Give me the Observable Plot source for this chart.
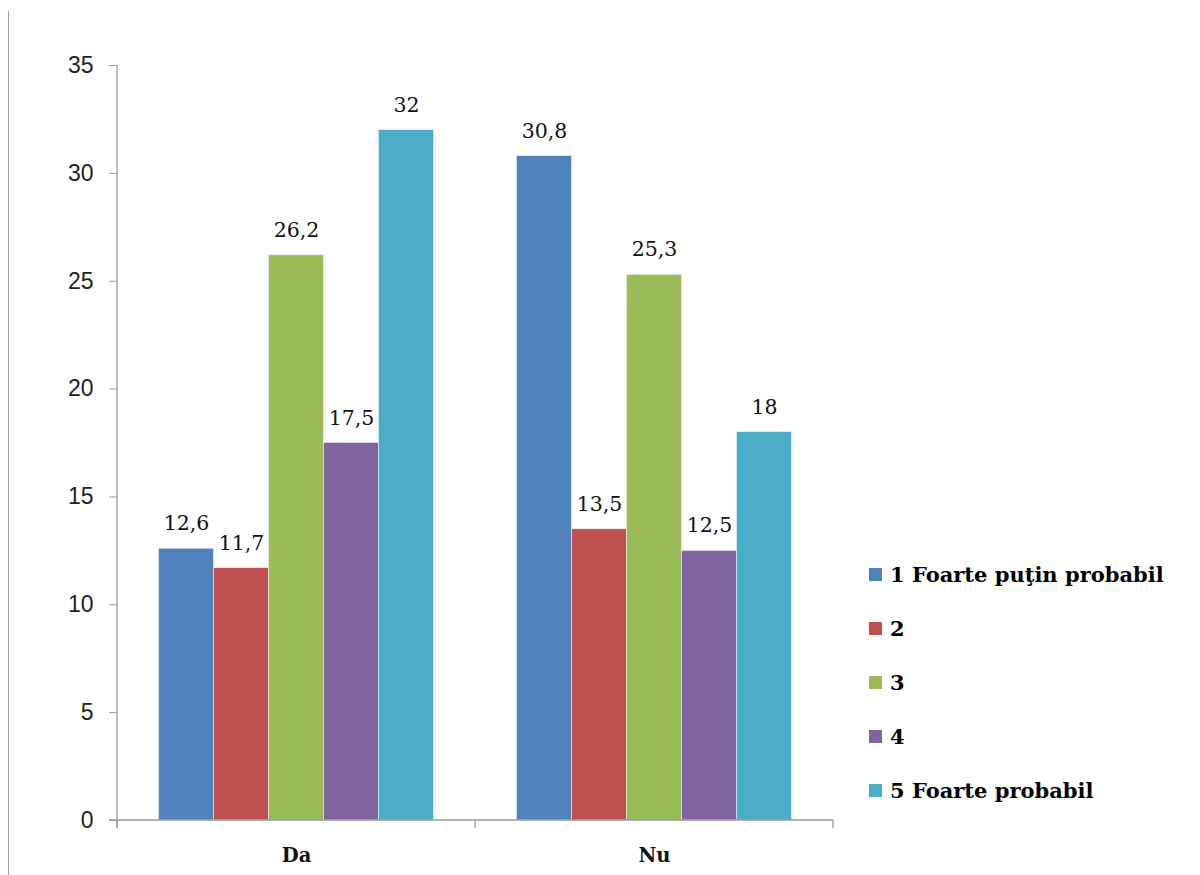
<!DOCTYPE html>
<html><head><meta charset="utf-8">
<script src="https://cdn.jsdelivr.net/npm/d3@7"></script>
<script src="https://cdn.jsdelivr.net/npm/@observablehq/plot@0.6"></script>
<style>
body{margin:0;background:#fff}
#wrap{position:relative;width:1200px;height:875px;overflow:hidden}
#border{position:absolute;left:8px;top:11px;width:1px;height:870px;background:#a0a0a0}
#legend{position:absolute;left:869px;top:547px;font-family:"DejaVu Serif",serif;font-weight:bold;font-size:21px;color:#000}
.item{display:flex;align-items:center;height:54px}
.sw{width:13px;height:13px;margin-right:8px;flex:none}
</style>
</head><body><div id="wrap"><div id="border"></div></div>
<script>
const groups = ["Da", "Nu"];
const series = ["1 Foarte puţin probabil", "2", "3", "4", "5 Foarte probabil"];
const valuesDa = [12.6, 11.7, 26.2, 17.5, 32];
const valuesNu = [30.8, 13.5, 25.3, 12.5, 18];
const colors = ["#4F81BD", "#C0504D", "#9BBB59", "#8064A2", "#4BACC6"];
const yTicks = [0, 5, 10, 15, 20, 25, 30, 35];

const rows = [];
series.forEach((s, i) => rows.push({group: "Da", series: s, value: valuesDa[i]}));
series.forEach((s, i) => rows.push({group: "Nu", series: s, value: valuesNu[i]}));
const fmt = v => String(v).replace(".", ",");

const chart = Plot.plot({
  width: 1200, height: 875,
  marginLeft: 117, marginRight: 367, marginTop: 65, marginBottom: 55,
  style: {background: "transparent", overflow: "visible"},
  fx: {domain: groups, padding: 0, round: false, label: null, axis: null},
  x: {domain: series, paddingInner: 0, paddingOuter: 0.755, round: false, axis: null},
  y: {domain: [0, 35], label: null, axis: null},
  color: {domain: series, range: colors},
  marks: [
    Plot.axisY({ticks: yTicks, tickSize: 8, tickPadding: 16, stroke: "#999", fill: "#222",
      fontSize: 23, fontFamily: "Liberation Sans, Arial, sans-serif", label: null}),
    Plot.barY(rows, {fx: "group", x: "series", y: "value", fill: "series", stroke: "#eef3f8", strokeWidth: 0.6}),
    Plot.text(rows, {fx: "group", x: "series", y: "value", text: d => fmt(d.value), dy: -25,
      fontSize: 20.5, fontFamily: "DejaVu Serif, serif", fill: "#111"}),
    Plot.axisFx({anchor: "bottom", tickSize: 0, tickPadding: 28, fontSize: 19.5, fontWeight: "bold",
      fontFamily: "DejaVu Serif, serif", fill: "#111", label: null})
  ]
});
document.getElementById("wrap").appendChild(chart);

// axis lines using Plot's scales
const y = chart.scale("y"), fx = chart.scale("fx");
const svg = d3.select(chart);
const y0 = y.apply(0), y1 = y.apply(35);
const xl = fx.apply(groups[0]);
const xr = fx.apply(groups[groups.length - 1]) + fx.bandwidth;
const g = svg.append("g").attr("stroke", "#999").attr("stroke-width", 1.3).attr("fill", "none");
g.append("line").attr("x1", xl).attr("x2", xl).attr("y1", y1).attr("y2", y0 + 8);
g.append("line").attr("x1", xl - 8).attr("x2", xr).attr("y1", y0).attr("y2", y0);
const edges = groups.map(d => fx.apply(d)).concat([xr]);
edges.forEach(e => g.append("line").attr("x1", e).attr("x2", e).attr("y1", y0).attr("y2", y0 + 8));

// legend
const leg = d3.select("#wrap").append("div").attr("id", "legend");
series.forEach((s, i) => {
  const it = leg.append("div").attr("class", "item");
  it.append("div").attr("class", "sw").style("background", colors[i]);
  it.append("span").text(s);
});
</script>
</body></html>
